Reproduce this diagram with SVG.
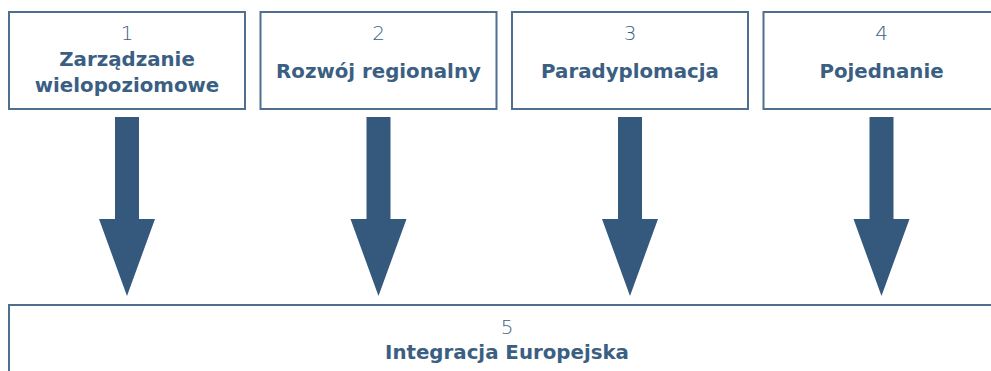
<svg xmlns="http://www.w3.org/2000/svg" width="991" height="371" viewBox="0 0 991 371">
<style>
.box{fill:#fff;stroke:#4f6f8f;stroke-width:2}
.num{font-family:"DejaVu Sans",sans-serif;font-weight:200;font-size:20px;fill:#3b5f82;text-anchor:middle}
.ttl{font-family:"DejaVu Sans",sans-serif;font-weight:bold;font-size:19.8px;fill:#3b5f82;text-anchor:middle}
.arr{fill:#34597d}
</style>
<rect width="991" height="371" fill="#fff"/>
<g id="connectors">
<path class="arr" d="M115,117H139V219H155L127,296L99,219H115Z"/>
<path class="arr" d="M366.5,117H390.5V219H406.5L378.5,296L350.5,219H366.5Z"/>
<path class="arr" d="M618,117H642V219H658L630,296L602,219H618Z"/>
<path class="arr" d="M869.5,117H893.5V219H909.5L881.5,296L853.5,219H869.5Z"/>
</g>
<g id="node1">
<rect class="box" x="9" y="12" width="236" height="97"/>
<text class="num" x="127" y="40">1</text>
<text class="ttl" x="127" y="66">Zarządzanie</text>
<text class="ttl" x="127" y="92">wielopoziomowe</text>
</g>
<g id="node2">
<rect class="box" x="260.5" y="12" width="236" height="97"/>
<text class="num" x="378.5" y="40">2</text>
<text class="ttl" x="378.5" y="78">Rozwój regionalny</text>
</g>
<g id="node3">
<rect class="box" x="512" y="12" width="236" height="97"/>
<text class="num" x="630" y="40">3</text>
<text class="ttl" x="630" y="78">Paradyplomacja</text>
</g>
<g id="node4">
<rect class="box" x="763.5" y="12" width="236" height="97"/>
<text class="num" x="881.5" y="40">4</text>
<text class="ttl" x="881.5" y="78">Pojednanie</text>
</g>
<g id="node5">
<rect class="box" x="9" y="305" width="1000" height="100"/>
<text class="num" x="507" y="334">5</text>
<text class="ttl" x="507" y="359">Integracja Europejska</text>
</g>
</svg>
